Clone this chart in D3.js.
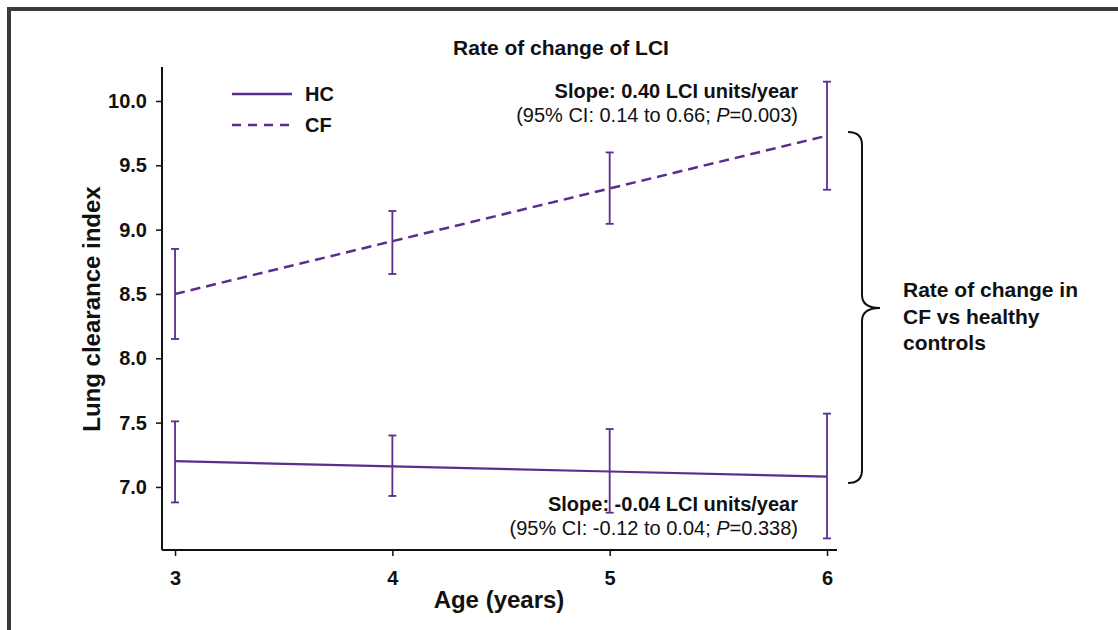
<!DOCTYPE html>
<html>
<head>
<meta charset="utf-8">
<script src="https://cdn.jsdelivr.net/npm/d3@7"></script>
<style>
  html, body { margin: 0; padding: 0; background: #fff; }
  svg { display: block; font-family: "Liberation Sans", Arial, sans-serif; }
</style>
</head>
<body>
<svg id="chart" width="1118" height="630"></svg>
<script>
// Ages at which LCI was measured
const ages = [3, 4, 5, 6];
// Healthy controls: fitted mean and 95% CI bounds
const hcMean = [7.20, 7.16, 7.12, 7.08];
const hcLower = [6.88, 6.93, 6.80, 6.60];
const hcUpper = [7.51, 7.40, 7.45, 7.57];
// Cystic fibrosis: fitted mean and 95% CI bounds
const cfMean = [8.50, 8.91, 9.32, 9.73];
const cfLower = [8.15, 8.655, 9.045, 9.31];
const cfUpper = [8.85, 9.145, 9.60, 10.15];
// Axis ticks
const xTicks = [3, 4, 5, 6];
const yTicks = [7.0, 7.5, 8.0, 8.5, 9.0, 9.5, 10.0];

const purple = "#5b2d8c";
const ink = "#111";
const svg = d3.select("#chart");

// Panel frame
svg.append("rect")
  .attr("x", 9).attr("y", 9).attr("width", 1130).attr("height", 640)
  .attr("fill", "none").attr("stroke", "#3b3b3b").attr("stroke-width", 4);

const x = d3.scaleLinear().domain([2.94, 6.046]).range([162, 837]);
const y = d3.scaleLinear().domain([6.51, 10.264]).range([550, 67]);

// Axes
const xAxis = d3.axisBottom(x).tickValues(xTicks).tickFormat(d3.format("d")).tickSize(6).tickPadding(15);
const yAxis = d3.axisLeft(y).tickValues(yTicks).tickFormat(d3.format(".1f")).tickSize(6).tickPadding(9);

const gx = svg.append("g").attr("transform", "translate(0,550)").call(xAxis);
const gy = svg.append("g").attr("transform", "translate(162,0)").call(yAxis);
[gx, gy].forEach(g => {
  g.select(".domain").attr("stroke", ink).attr("stroke-width", 2);
  g.selectAll(".tick line").attr("stroke", ink).attr("stroke-width", 1.5);
  g.selectAll(".tick text").attr("fill", ink).style("font-size", "20px").style("font-weight", "bold")
    .style("font-family", "'Liberation Sans', Arial, sans-serif");
});
gx.select(".domain").attr("d", "M162,0H837");
gy.select(".domain").attr("d", "M0,550V67");

// Titles
svg.append("text").attr("x", 561).attr("y", 55).attr("text-anchor", "middle")
  .style("font-size", "21px").style("font-weight", "bold").attr("fill", ink)
  .text("Rate of change of LCI");
svg.append("text").attr("transform", "translate(100,309) rotate(-90)").attr("text-anchor", "middle")
  .style("font-size", "24px").style("font-weight", "bold").attr("fill", ink)
  .text("Lung clearance index");
svg.append("text").attr("x", 499).attr("y", 608).attr("text-anchor", "middle")
  .style("font-size", "24px").style("font-weight", "bold").attr("fill", ink)
  .text("Age (years)");

// Series
const series = [
  { name: "HC", mean: hcMean, lower: hcLower, upper: hcUpper, dash: null },
  { name: "CF", mean: cfMean, lower: cfLower, upper: cfUpper, dash: "10,6" }
];

const line = d3.line().x(d => x(d.age)).y(d => y(d.v));

series.forEach(s => {
  const pts = ages.map((a, i) => ({ age: a, v: s.mean[i], lo: s.lower[i], hi: s.upper[i] }));
  const g = svg.append("g");
  // error bars
  const eb = g.selectAll(".eb").data(pts).enter().append("g");
  eb.append("line").attr("x1", d => x(d.age)).attr("x2", d => x(d.age))
    .attr("y1", d => y(d.lo)).attr("y2", d => y(d.hi))
    .attr("stroke", purple).attr("stroke-width", 1.8);
  eb.append("line").attr("x1", d => x(d.age) - 4).attr("x2", d => x(d.age) + 4)
    .attr("y1", d => y(d.lo)).attr("y2", d => y(d.lo))
    .attr("stroke", purple).attr("stroke-width", 1.8);
  eb.append("line").attr("x1", d => x(d.age) - 4).attr("x2", d => x(d.age) + 4)
    .attr("y1", d => y(d.hi)).attr("y2", d => y(d.hi))
    .attr("stroke", purple).attr("stroke-width", 1.8);
  // fitted line
  g.append("path").datum(pts).attr("d", line).attr("fill", "none")
    .attr("stroke", purple).attr("stroke-width", s.dash ? 2.5 : 2.2)
    .attr("stroke-dasharray", s.dash);
});

// Legend
const legend = svg.append("g");
series.forEach((s, i) => {
  const ly = 94 + i * 31;
  legend.append("line").attr("x1", 232).attr("x2", 292).attr("y1", ly).attr("y2", ly)
    .attr("stroke", purple).attr("stroke-width", 2.5).attr("stroke-dasharray", s.dash ? "9,7" : null);
  legend.append("text").attr("x", 305).attr("y", ly + 7)
    .style("font-size", "20px").style("font-weight", "bold").attr("fill", ink).text(s.name);
});

// Slope annotations
function annotate(yTop, slope, ci, p) {
  svg.append("text").attr("x", 798).attr("y", yTop).attr("text-anchor", "end")
    .style("font-size", "20px").style("font-weight", "bold").attr("fill", ink)
    .text(`Slope: ${slope} LCI units/year`);
  const t = svg.append("text").attr("x", 798).attr("y", yTop + 24).attr("text-anchor", "end")
    .style("font-size", "20px").attr("fill", ink);
  t.append("tspan").text(`(95% CI: ${ci}; `);
  t.append("tspan").style("font-style", "italic").text("P");
  t.append("tspan").text(`=${p})`);
}
annotate(98, "0.40", "0.14 to 0.66", "0.003");
annotate(511, "-0.04", "-0.12 to 0.04", "0.338");

// Brace spanning both series
const bx = 848, braceTop = 132, braceBot = 483, braceMid = 308, tip = 880, bw = 14;
const brace = d3.path();
brace.moveTo(bx, braceTop);
brace.quadraticCurveTo(bx + bw, braceTop, bx + bw, braceTop + 13);
brace.lineTo(bx + bw, braceMid - 13);
brace.quadraticCurveTo(bx + bw, braceMid, tip, braceMid);
brace.quadraticCurveTo(bx + bw, braceMid, bx + bw, braceMid + 13);
brace.lineTo(bx + bw, braceBot - 13);
brace.quadraticCurveTo(bx + bw, braceBot, bx, braceBot);
svg.append("path").attr("d", brace.toString()).attr("fill", "none")
  .attr("stroke", ink).attr("stroke-width", 2);

const note = svg.append("text")
  .style("font-size", "21px").style("font-weight", "bold").attr("fill", ink);
["Rate of change in", "CF vs healthy", "controls"].forEach((l, i) => {
  note.append("tspan").attr("x", 903).attr("y", 297 + i * 26.5).text(l);
});
</script>
</body>
</html>
